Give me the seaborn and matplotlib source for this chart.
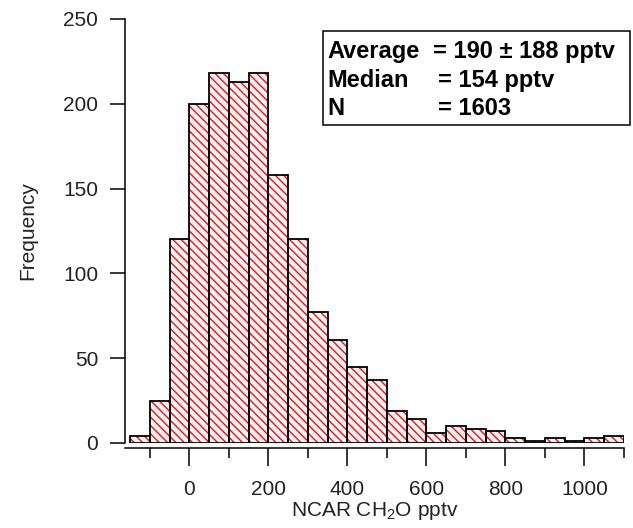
import matplotlib
matplotlib.use('Agg')
import matplotlib.pyplot as plt
import matplotlib.ticker as mticker
from matplotlib.patches import Rectangle
import numpy as np
import seaborn as sns

# histogram of NCAR CH2O (pptv), 50 pptv bins
bin_left = [-150, -100, -50, 0, 50, 100, 150, 200, 250, 300, 350, 400, 450,
            500, 550, 600, 650, 700, 750, 800, 850, 900, 950, 1000, 1050]
bin_width = 50
counts = [4, 25, 120, 200, 218, 213, 218, 158, 120, 77, 61, 45, 37,
          19, 14, 6, 10, 8, 7, 3, 1, 3, 1, 3, 4]

stat_names = ['Average', 'Median', 'N']
stat_values = ['= 190 \u00b1 188 pptv', '= 154 pptv', '= 1603']

x_ticks = [0, 200, 400, 600, 800, 1000]
y_ticks = [0, 50, 100, 150, 200, 250]

sns.set_theme(style='ticks')
plt.rcParams['font.family'] = ['Liberation Sans', 'DejaVu Sans']
plt.rcParams['mathtext.fontset'] = 'custom'
plt.rcParams['mathtext.rm'] = 'Liberation Sans'
plt.rcParams['mathtext.default'] = 'regular'
plt.rcParams['hatch.linewidth'] = 1.0
plt.rcParams['text.color'] = 'black'
plt.rcParams['axes.labelcolor'] = '#222222'

edges = bin_left + [bin_left[-1] + bin_width]
centers = [b + bin_width / 2 for b in bin_left]

fig = plt.figure(figsize=(6.33, 5.28), dpi=100)
W, H = 633, 528
ax = fig.add_axes([125 / W, 1 - 443 / H, 499 / W, 424 / H])

# hatched red fill
sns.histplot(x=centers, weights=counts, bins=edges, ax=ax, stat='count',
             color='#ffeef0', edgecolor='#d41c1c', linewidth=0,
             hatch='\\\\\\\\', alpha=1)
# black outlines on top
sns.histplot(x=centers, weights=counts, bins=edges, ax=ax, stat='count',
             fill=False, color='black', linewidth=1.3)

ax.set_xlim(-163, 1100)
ax.set_ylim(0, 250)
ax.xaxis.set_major_locator(mticker.FixedLocator(x_ticks))
ax.xaxis.set_minor_locator(mticker.MultipleLocator(100))
ax.yaxis.set_major_locator(mticker.FixedLocator(y_ticks))

ax.spines['top'].set_visible(False)
ax.spines['right'].set_visible(False)
ax.spines['bottom'].set_position(('outward', 3.3))
for sp in ['left', 'bottom']:
    ax.spines[sp].set_linewidth(1.1)
    ax.spines[sp].set_color('black')

ax.tick_params(axis='y', which='major', direction='out', length=10.8, width=1.1,
               pad=8.5, labelsize=15, colors='black', labelcolor='#222222')
ax.tick_params(axis='x', which='major', direction='out', length=13, width=1.1,
               pad=10, labelsize=15, colors='black', labelcolor='#222222')
ax.tick_params(axis='x', which='minor', direction='out', length=7, width=1.1,
               colors='black')

ax.set_ylabel('Frequency', fontsize=15)
ax.yaxis.set_label_coords(-0.176, 0.5)
ax.set_xlabel('NCAR CH$_2$O pptv', fontsize=15)
ax.xaxis.set_label_coords(0.5, -0.135)

# statistics box
fig.patches.append(Rectangle((322.7 / W, 1 - 125 / H), (630 - 322.7) / W, 94 / H,
                             transform=fig.transFigure, fill=False,
                             edgecolor='black', linewidth=1.1))
baselines = [58, 87, 115]
value_x = [433, 438, 438]
for name, val, yb, vx in zip(stat_names, stat_values, baselines, value_x):
    fig.text(327 / W, 1 - yb / H, name, fontsize=17, fontweight='bold',
             ha='left', va='baseline', color='black')
    fig.text(vx / W, 1 - yb / H, val, fontsize=17, fontweight='bold',
             ha='left', va='baseline', color='black')

fig.savefig('out.png', dpi=100, facecolor='white')
